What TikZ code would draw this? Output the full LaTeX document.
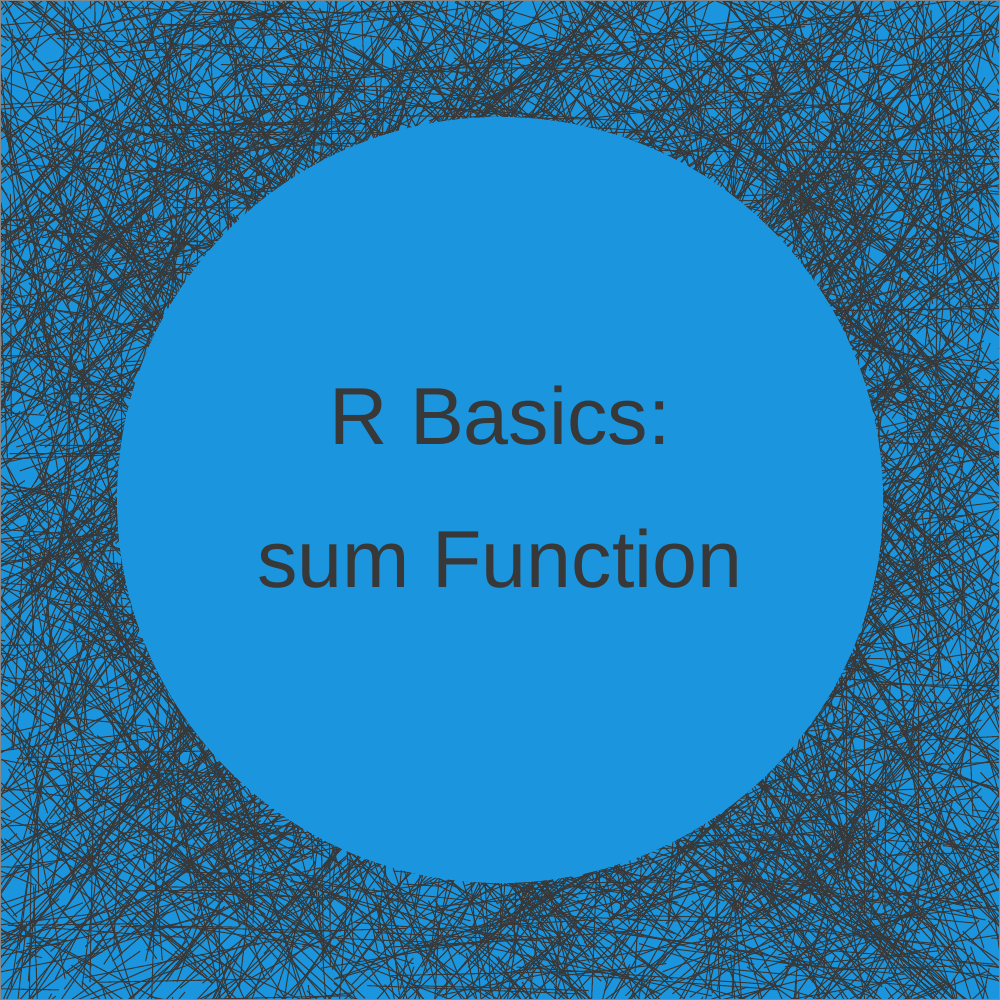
\documentclass[tikz,border=0pt]{standalone}
\usepackage{fontspec}
\setmainfont{Liberation Sans}
\definecolor{bgblue}{HTML}{1B95DE}
\definecolor{ink}{HTML}{383838}
\begin{document}
\begin{tikzpicture}
\useasboundingbox (0,0) rectangle (10,10);
\fill[bgblue] (0,0) rectangle (10,10);
\pgfmathsetseed{42}
\begin{scope}
\clip (0,0) rectangle (10,10);
\foreach \i in {1,...,4500}{
  \pgfmathsetmacro{\xa}{10*rnd}
  \pgfmathsetmacro{\ya}{10*rnd}
  \pgfmathsetmacro{\xb}{\xa+2.5*rand}
  \pgfmathsetmacro{\yb}{\ya+2.5*rand}
  \draw[ink, line width=0.3pt] (\xa,\ya) -- (\xb,\yb);
}
\end{scope}
\draw[ink!60, line width=0.6pt] (0,0) rectangle (10,10);
\node[circle, fill=bgblue, minimum size=7.66cm, inner sep=0pt] (c) at (5,5) {};
\node[anchor=base, text=ink, font=\fontsize{23pt}{28pt}\selectfont] (t1) at (5,5.55) {R Basics:};
\node[anchor=base, text=ink, font=\fontsize{23pt}{28pt}\selectfont] (t2) at (5,4.12) {sum Function};
\end{tikzpicture}
\end{document}
